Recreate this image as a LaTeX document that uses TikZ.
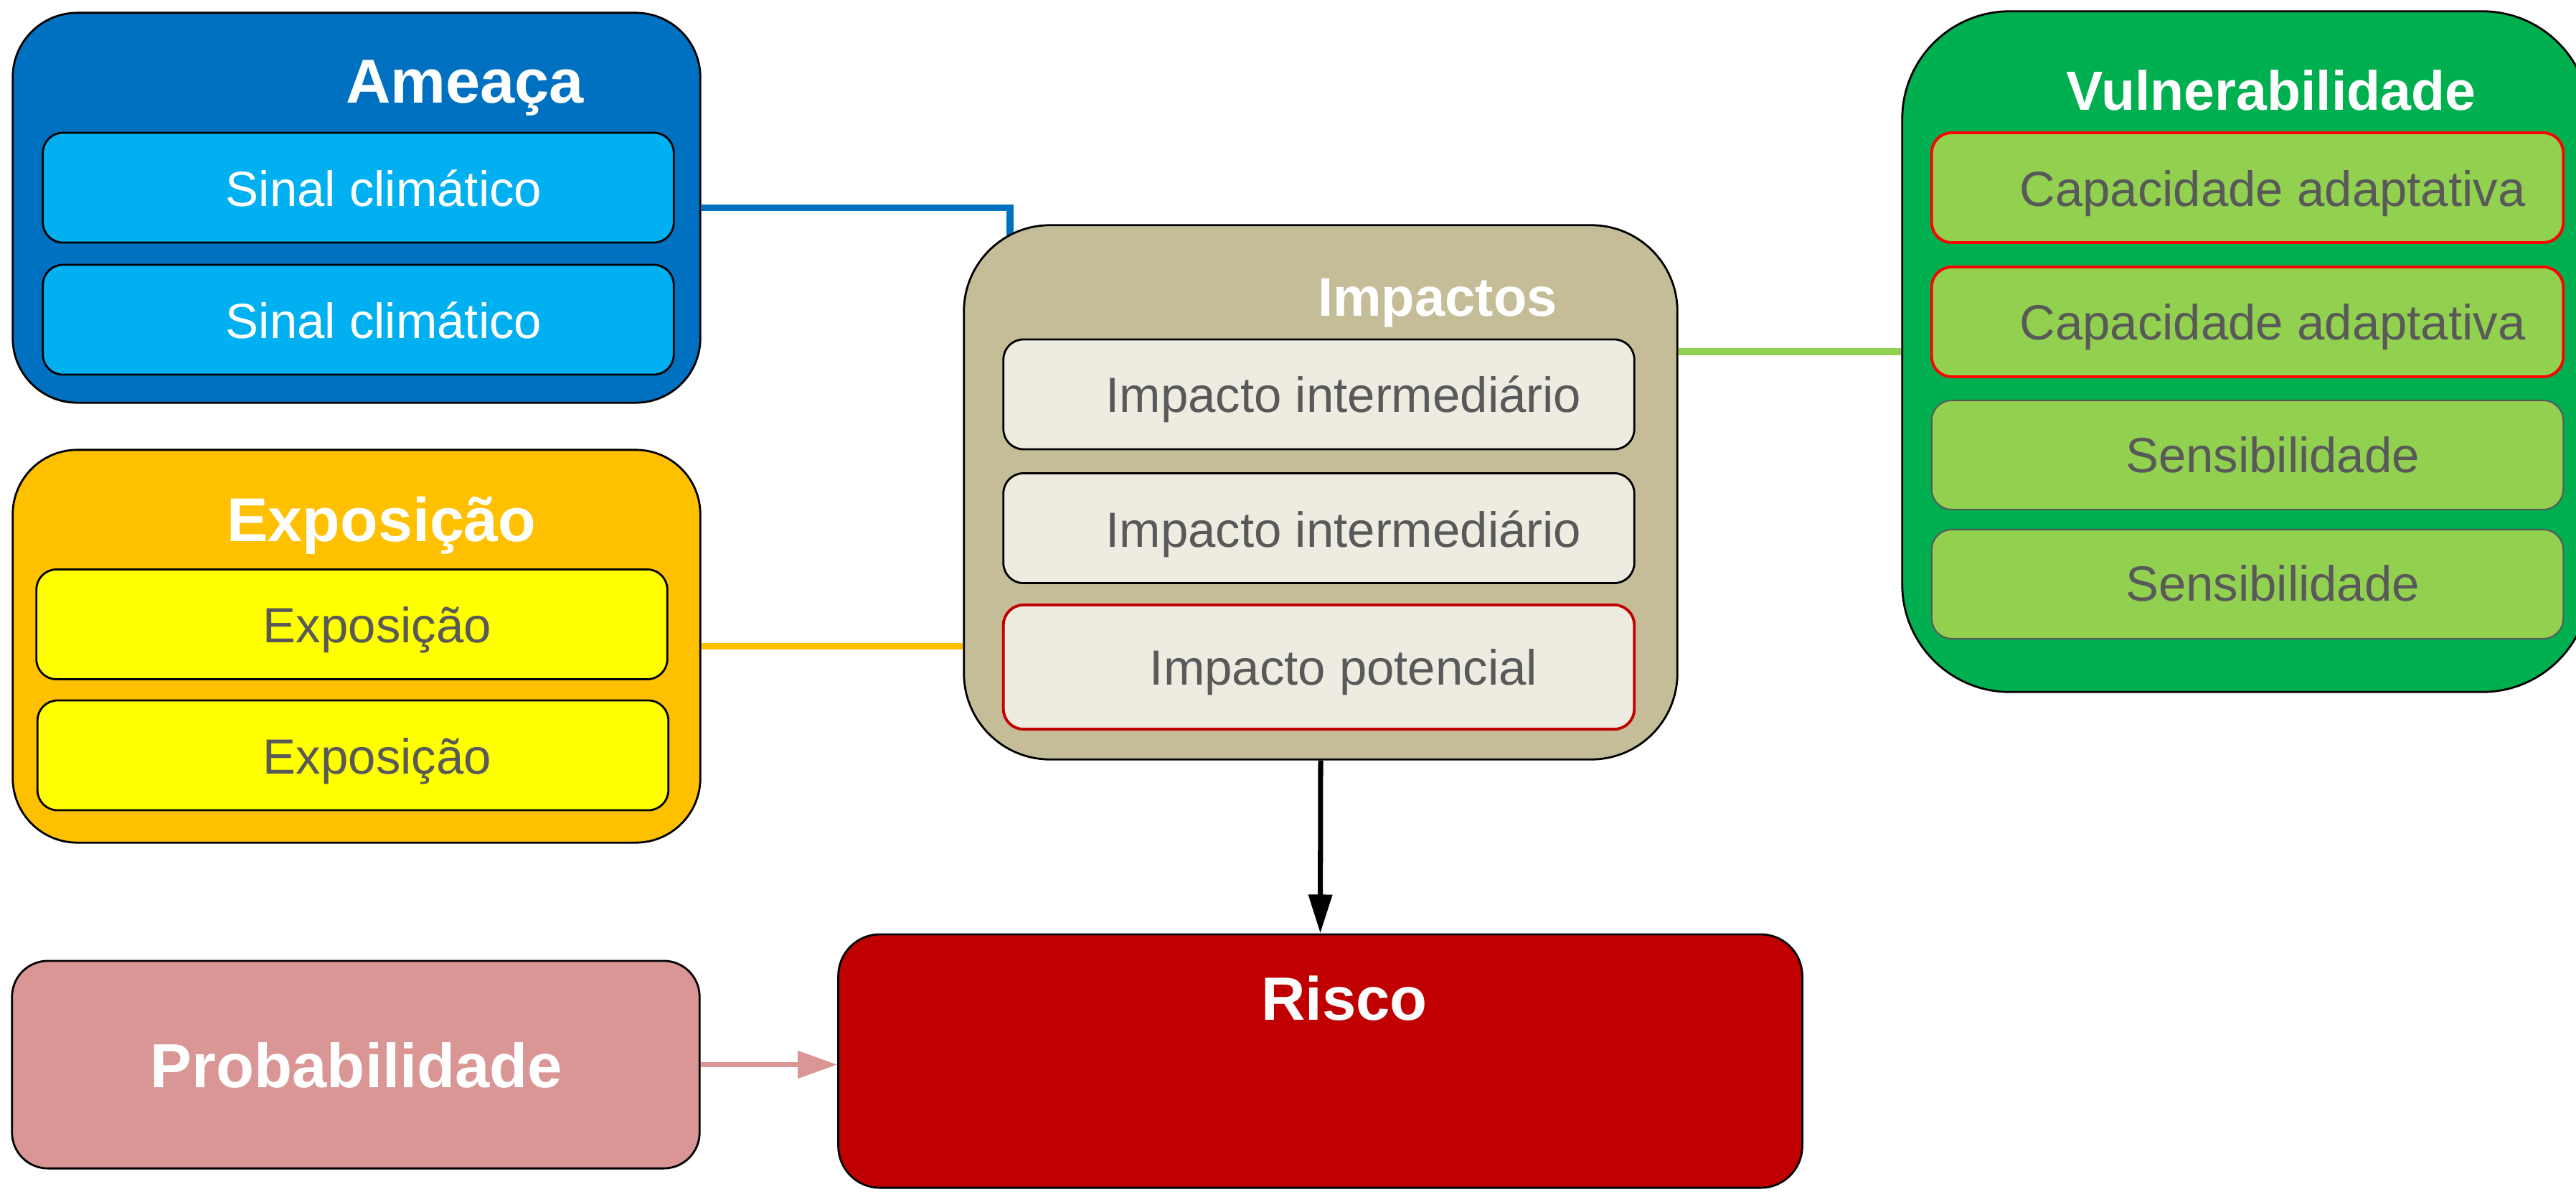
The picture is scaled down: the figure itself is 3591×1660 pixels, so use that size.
\documentclass[tikz,border=0pt]{standalone}
\usepackage{fontspec}
\setmainfont{Liberation Sans}
\usetikzlibrary{arrows.meta}
\definecolor{cAme}{HTML}{0070C0}
\definecolor{cAmeIn}{HTML}{00B0F0}
\definecolor{cExp}{HTML}{FFC000}
\definecolor{cExpIn}{HTML}{FFFF00}
\definecolor{cImp}{HTML}{C4BD97}
\definecolor{cImpIn}{HTML}{EEECE1}
\definecolor{cVul}{HTML}{00B050}
\definecolor{cVulIn}{HTML}{92D050}
\definecolor{cProb}{HTML}{D99694}
\definecolor{cRisco}{HTML}{C00000}
\definecolor{cTxt}{HTML}{595959}
\definecolor{cRed}{HTML}{FF0000}
\pgfdeclarelayer{bg}
\pgfsetlayers{bg,main}
\tikzset{
  bigbox/.style={draw=black, line width=0.8pt, inner sep=0pt, minimum width=9.58cm},
  inbox/.style={draw=black, line width=0.8pt, inner sep=0pt, rounded corners=0.28cm, minimum width=8.79cm, minimum height=1.53cm},
  ttl/.style={anchor=base, text=white, inner sep=0pt},
  intxt/.style={anchor=base, text=cTxt, inner sep=0pt, font=\fontsize{19.6pt}{22pt}\selectfont},
  wtxt/.style={anchor=base, text=white, inner sep=0pt, font=\fontsize{19.6pt}{22pt}\selectfont},
  conn/.style={line width=2.8pt}
}
\begin{document}
\begin{tikzpicture}[x=0.01cm,y=-0.01cm]
\useasboundingbox (0,0) rectangle (3591,1660);

% Ameaca
\node[bigbox, fill=cAme, minimum height=5.43cm, rounded corners=0.9cm] (ameaca) at (497,289.5) {};
\node[ttl, font=\bfseries\fontsize{24.6pt}{28pt}\selectfont] (ameacaT) at (648,143) {Ameaça};
\node[inbox, fill=cAmeIn] (sinal1) at (499.5,261.5) {};
\node[wtxt] (sinal1T) at (535,287) {Sinal climático};
\node[inbox, fill=cAmeIn] (sinal2) at (499.5,445.5) {};
\node[wtxt] (sinal2T) at (535,471) {Sinal climático};

% Exposicao
\node[bigbox, fill=cExp, minimum height=5.47cm, rounded corners=0.9cm] (expo) at (497,900.5) {};
\node[ttl, font=\bfseries\fontsize{24.5pt}{28pt}\selectfont] (expoT) at (532,754) {Exposição};
\node[inbox, fill=cExpIn] (exp1) at (490.5,870) {};
\node[intxt] (exp1T) at (526,895) {Exposição};
\node[inbox, fill=cExpIn] (exp2) at (492,1052.5) {};
\node[intxt] (exp2T) at (526,1078) {Exposição};

% Impactos
\node[bigbox, fill=cImp, minimum width=9.94cm, minimum height=7.44cm, rounded corners=1.2cm] (impactos) at (1841,686) {};
\node[ttl, font=\bfseries\fontsize{21.6pt}{25pt}\selectfont] (impactosT) at (2004,440) {Impactos};
\node[inbox, fill=cImpIn] (imp1) at (1838.5,549.5) {};
\node[intxt] (imp1T) at (1873,574) {Impacto intermediário};
\node[inbox, fill=cImpIn] (imp2) at (1838.5,736) {};
\node[intxt] (imp2T) at (1873,762) {Impacto intermediário};
\node[inbox, fill=cImpIn, draw=cRisco, line width=1.1pt, minimum height=1.73cm] (imp3) at (1838.5,929.5) {};
\node[intxt] (imp3T) at (1873,954) {Impacto potencial};

% Vulnerabilidade
\node[bigbox, fill=cVul, minimum height=9.48cm, rounded corners=1.5cm] (vuln) at (3131,490) {};
\node[ttl, font=\bfseries\fontsize{21.9pt}{25pt}\selectfont] (vulnT) at (3166,153) {Vulnerabilidade};
\node[inbox, fill=cVulIn, draw=cRed, line width=1.1pt, minimum width=8.8cm] (vul1) at (3133,261.5) {};
\node[intxt] (vul1T) at (3168,287) {Capacidade adaptativa};
\node[inbox, fill=cVulIn, draw=cRed, line width=1.1pt, minimum width=8.8cm] (vul2) at (3133,448.5) {};
\node[intxt] (vul2T) at (3168,473) {Capacidade adaptativa};
\node[inbox, fill=cVulIn, draw=cTxt, line width=0.6pt, minimum width=8.8cm, minimum height=1.52cm] (vul3) at (3133,634) {};
\node[intxt] (vul3T) at (3168,658) {Sensibilidade};
\node[inbox, fill=cVulIn, draw=cTxt, line width=0.6pt, minimum width=8.8cm, minimum height=1.52cm] (vul4) at (3133,814) {};
\node[intxt] (vul4T) at (3168,837) {Sensibilidade};

% Probabilidade
\node[bigbox, fill=cProb, minimum height=2.89cm, rounded corners=0.5cm] (prob) at (496,1483.5) {};
\node[ttl, font=\bfseries\fontsize{24.7pt}{28pt}\selectfont] (probT) at (497,1515) {Probabilidade};

% Risco
\node[bigbox, fill=cRisco, minimum width=13.43cm, minimum height=3.53cm, rounded corners=0.58cm] (risco) at (1840.5,1478.5) {};
\node[ttl, font=\bfseries\fontsize{24.2pt}{28pt}\selectfont] (riscoT) at (1874,1421) {Risco};

% connectors
\coordinate (blueEnd) at (1408,345);
\begin{pgfonlayer}{bg}
\draw[conn, draw=cAme, line width=2.6pt] (ameaca.east) -| (blueEnd);
\draw[conn, draw=cExp] (expo.east) -- (expo.east -| impactos.west);
\draw[conn, draw=cVulIn] (vuln.west) -- (vuln.west -| impactos.east);
\end{pgfonlayer}
\draw[line width=2pt, -{Triangle[length=0.54cm, width=0.32cm]}] (impactos.south) -- (risco.north);
\draw[line width=2pt, draw=cProb, -{Triangle[length=0.55cm, width=0.37cm]}] (prob.east) -- (risco.west |- prob.east);
\end{tikzpicture}
\end{document}
